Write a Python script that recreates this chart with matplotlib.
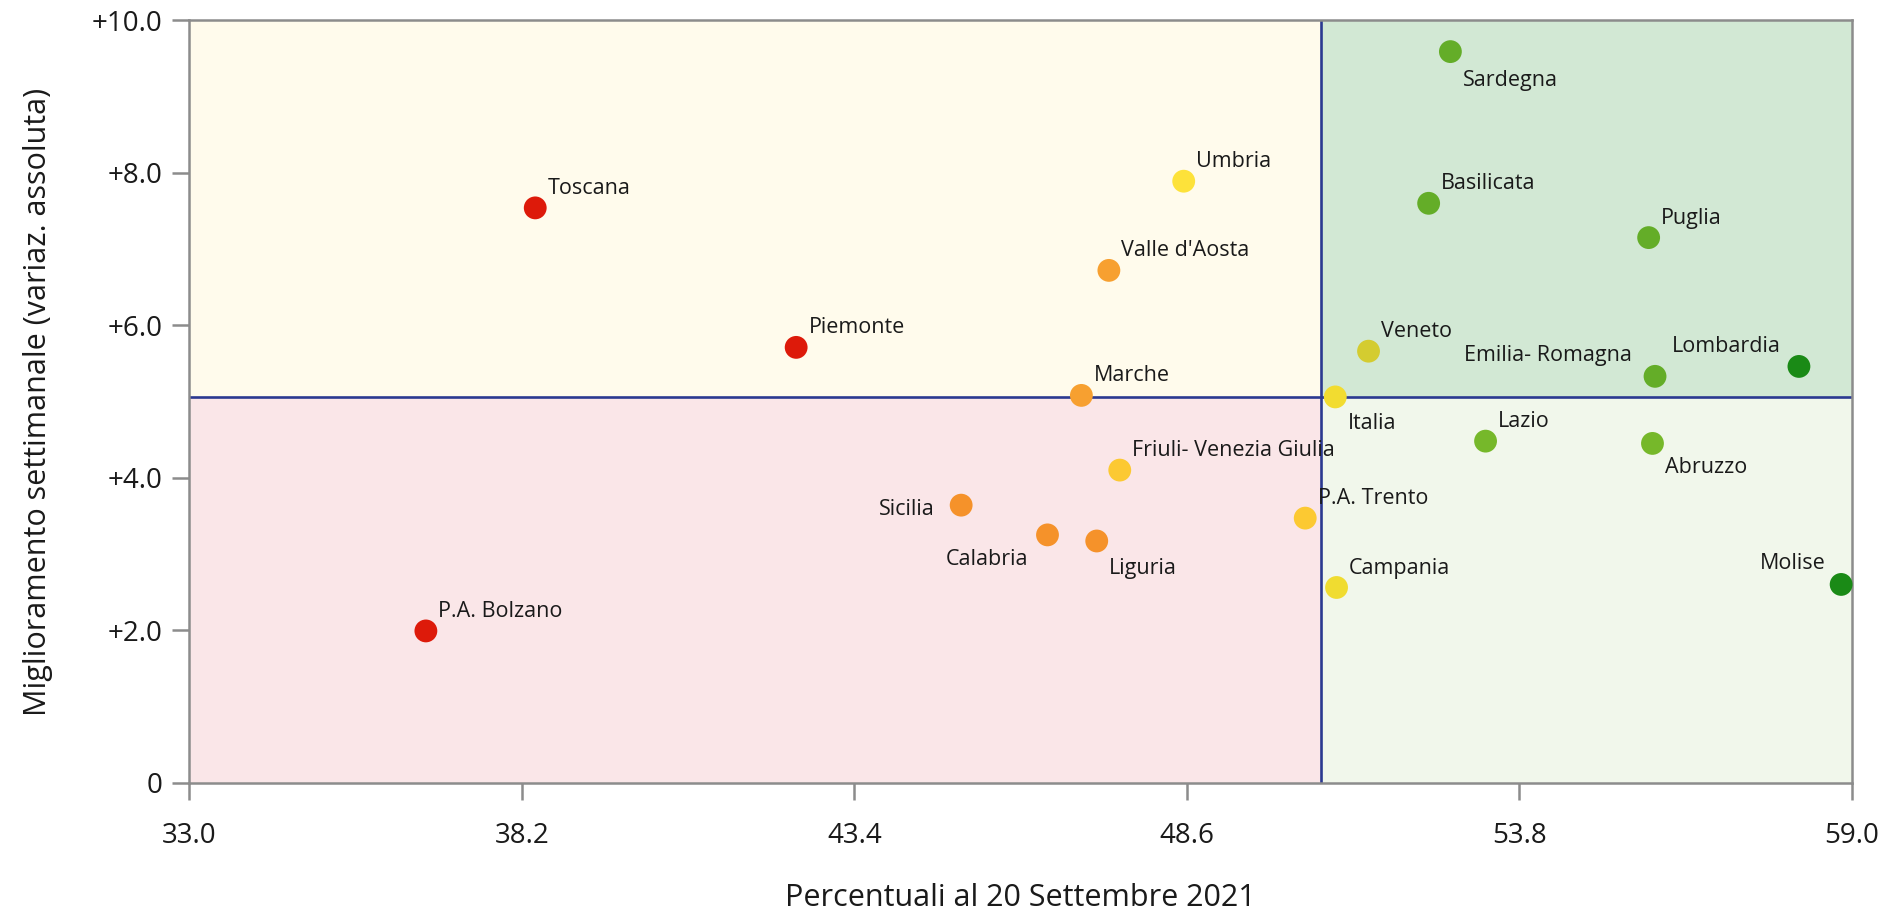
import numpy as np
import matplotlib.pyplot as plt

# ==============================================================================
# DATA
# ==============================================================================

regions = ["Toscana", "Piemonte", "P.A. Bolzano", "Umbria", "Valle d'Aosta", "Marche",
           "Friuli- Venezia Giulia", "Sicilia", "Calabria", "Liguria", "P.A. Trento",
           "Campania", "Italia", "Veneto", "Sardegna", "Basilicata", "Puglia",
           "Lombardia", "Emilia- Romagna", "Lazio", "Abruzzo", "Molise"]
pct = [38.41, 42.49, 36.70, 48.55, 47.38, 46.95,
       47.55, 45.07, 46.42, 47.19, 50.45,
       50.94, 50.92, 51.44, 52.72, 52.38, 55.82,
       58.17, 55.92, 53.27, 55.88, 58.83]
delta = [7.54, 5.71, 1.99, 7.89, 6.72, 5.08,
         4.10, 3.64, 3.25, 3.17, 3.47,
         2.56, 5.06, 5.66, 9.59, 7.60, 7.15,
         5.46, 5.33, 4.48, 4.45, 2.60]
dot_colors = ["#dd1a0a", "#dd1a0a", "#dd1a0a", "#fde23a", "#f7a030", "#f7a030",
              "#fcc932", "#f5922a", "#f5922a", "#f5922a", "#fcc932",
              "#f0dc30", "#f2dc30", "#d4cc30", "#64ad28", "#64ad28", "#64ad28",
              "#1a8a16", "#64ad28", "#76b82a", "#76b82a", "#1a8a16"]

# label offsets in points (dx, dy) and alignment
label_pos = {
    "Sardegna": (9, -21, "left"),
    "Italia": (9, -19, "left"),
    "Abruzzo": (9, -17, "left"),
    "Liguria": (9, -20, "left"),
    "Calabria": (-14, -18, "right"),
    "Sicilia": (-19, -3, "right"),
    "Emilia- Romagna": (-17, 15, "right"),
    "Lombardia": (-13, 14, "right"),
    "Molise": (-11, 15, "right"),
}

x_ticks = [33.0, 38.2, 43.4, 48.6, 53.8, 59.0]
y_ticks = [0, 2, 4, 6, 8, 10]
y_tick_labels = ["0", "+2.0", "+4.0", "+6.0", "+8.0", "+10.0"]

x_split = 50.69
y_split = 5.06

# ==============================================================================
# PLOT
# ==============================================================================

plt.rcParams['font.family'] = ['Open Sans', 'DejaVu Sans']

fig = plt.figure(figsize=(18.85, 9.13), dpi=100)
ax = fig.add_axes([0.1004, 0.1428, 0.8821, 0.8349])

x0, x1 = x_ticks[0], x_ticks[-1]
y0, y1 = y_ticks[0], y_ticks[-1]

# quadrant backgrounds
ax.fill_between([x0, x_split], y_split, y1, color="#fffbec", lw=0, zorder=0)
ax.fill_between([x_split, x1], y_split, y1, color="#d2e8d4", lw=0, zorder=0)
ax.fill_between([x0, x_split], y0, y_split, color="#fae6e8", lw=0, zorder=0)
ax.fill_between([x_split, x1], y0, y_split, color="#f1f7eb", lw=0, zorder=0)

ax.axvline(x_split, color="#2b3990", lw=1.9, zorder=1)
ax.axhline(y_split, color="#2b3990", lw=1.9, zorder=1)

ax.scatter(pct, delta, s=270, c=dot_colors, linewidths=0, zorder=3, clip_on=False)

for name, x, y in zip(regions, pct, delta):
    dx, dy, ha = label_pos.get(name, (9, 14, "left"))
    ax.annotate(name, (x, y), xytext=(dx, dy), textcoords="offset points",
                ha=ha, va="center", fontsize=15.5, color="#1a1a1a", zorder=4)

ax.set_xlim(x0, x1)
ax.set_ylim(y0, y1)
ax.set_xticks(x_ticks)
ax.set_xticklabels([f"{v:.1f}" for v in x_ticks])
ax.set_yticks(y_ticks)
ax.set_yticklabels(y_tick_labels)

for s in ax.spines.values():
    s.set_color("#8c8c8c")
    s.set_linewidth(1.8)
ax.tick_params(direction="out", length=12, width=1.8, color="#8c8c8c",
               labelsize=20, labelcolor="#1a1a1a")
ax.tick_params(axis="x", pad=16)
ax.tick_params(axis="y", pad=7)

ax.set_xlabel("Percentuali al 20 Settembre 2021", fontsize=22, color="#1a1a1a", labelpad=24)
ax.set_ylabel("Miglioramento settimanale (variaz. assoluta)", fontsize=22, color="#1a1a1a", labelpad=28)

plt.savefig("out.png", dpi=100)
